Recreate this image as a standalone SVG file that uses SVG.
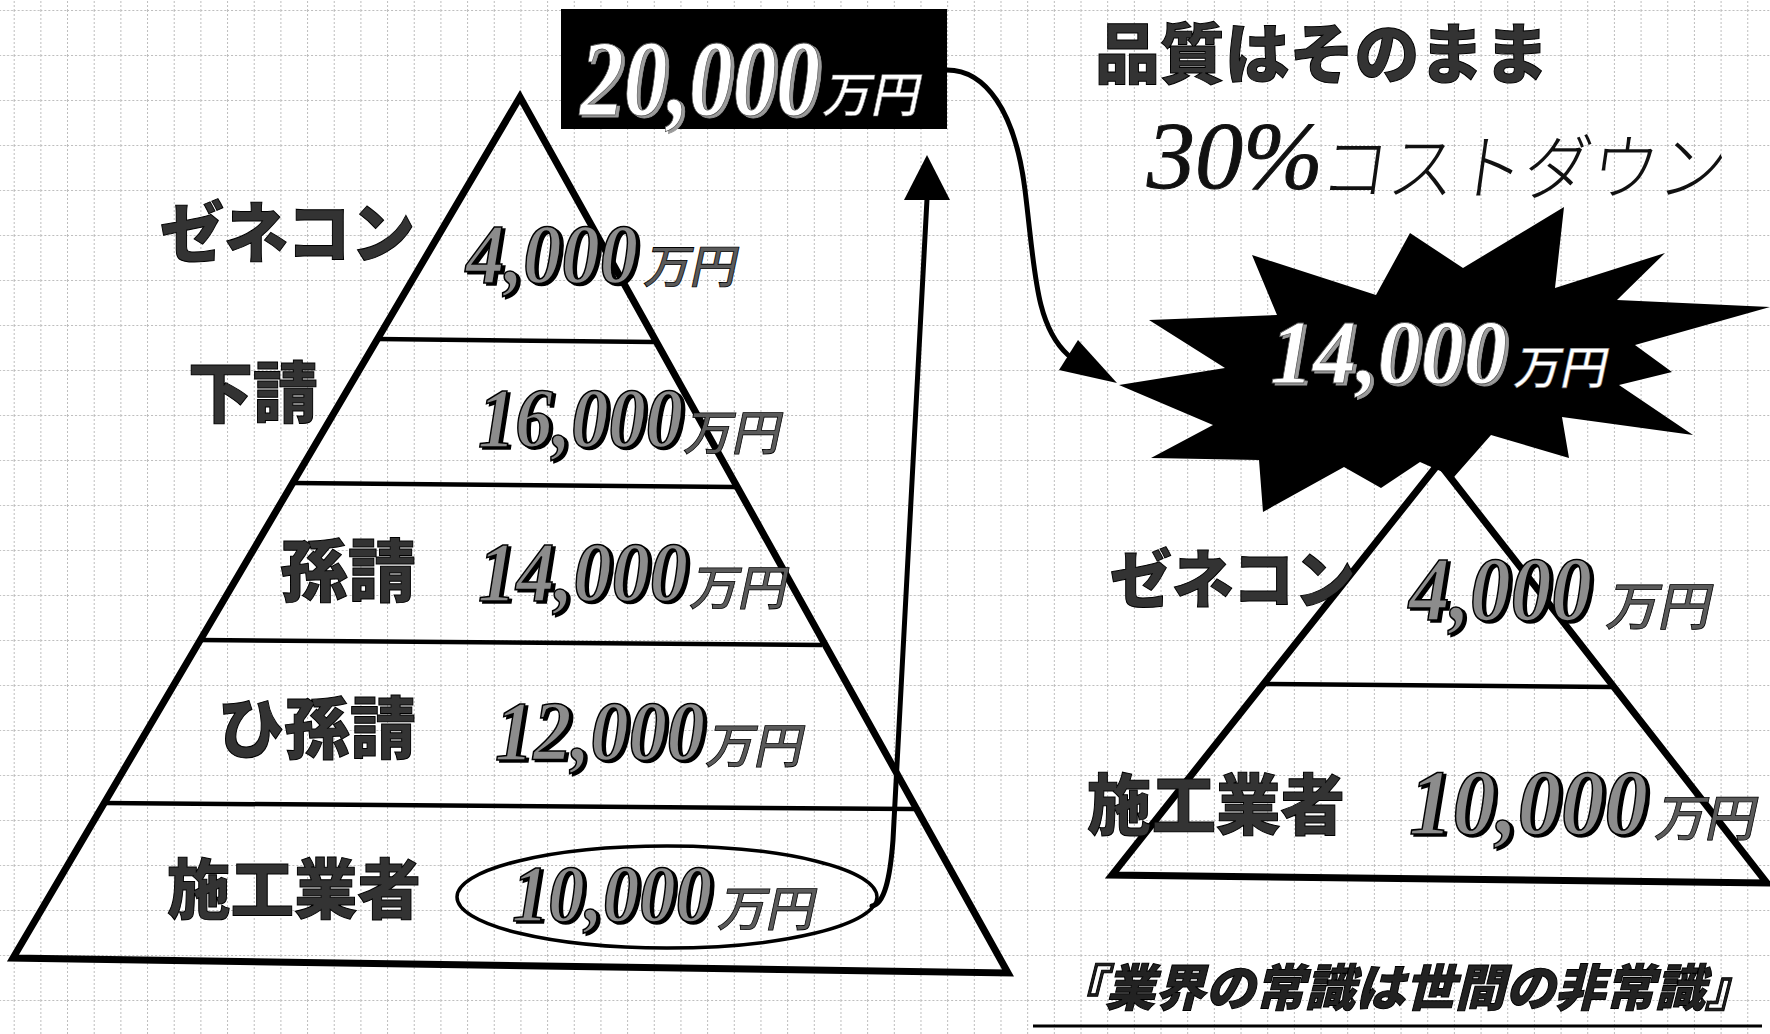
<svg xmlns="http://www.w3.org/2000/svg" width="1770" height="1034" viewBox="0 0 1770 1034">
<defs>
<pattern id="grid" patternUnits="userSpaceOnUse" x="13.7" y="10" width="26.67" height="45">
<path d="M0.5,0 V45 M0,0.5 H26.67" stroke="#bcbcbc" stroke-width="1" stroke-dasharray="2 2" fill="none"/>
</pattern>
<filter id="sh" x="-10%" y="-10%" width="130%" height="130%">
<feDropShadow dx="3" dy="2" stdDeviation="0" flood-color="#000"/>
</filter>
<filter id="shw" x="-10%" y="-10%" width="130%" height="130%">
<feDropShadow dx="3" dy="2" stdDeviation="0" flood-color="#9a9a9a"/>
</filter>
<style>
.num{font-family:"Liberation Serif","DejaVu Serif",serif;font-weight:bold;font-style:italic;fill:#8c8c8c;stroke:#000;stroke-width:1.6;filter:url(#sh)}
.numw{font-family:"Liberation Serif","DejaVu Serif",serif;font-weight:bold;font-style:italic;fill:#fff;stroke:#555;stroke-width:0.8;filter:url(#shw)}
.yen{font-family:"Noto Sans CJK JP","Noto Sans CJK SC",sans-serif;font-weight:500;fill:#5a5a5a;stroke:#000;stroke-width:0.8}
.yenw{font-family:"Noto Sans CJK JP","Noto Sans CJK SC",sans-serif;font-weight:500;fill:#fff;stroke:#777;stroke-width:0.6}
.lab{font-family:"Noto Sans CJK JP","Noto Sans CJK SC",sans-serif;font-weight:900;fill:#333;stroke:#000;stroke-width:1}
.cap{font-family:"Noto Sans CJK JP","Noto Sans CJK SC",sans-serif;font-weight:900;font-style:italic;fill:#222;stroke:#000;stroke-width:1}
.thin{font-family:"Noto Sans CJK JP","Noto Sans CJK SC",sans-serif;font-weight:300;fill:#111}
.pct{font-family:"Liberation Serif","DejaVu Serif",serif;font-style:italic;fill:#111;stroke:#111;stroke-width:1}
.side{stroke:#000;stroke-width:7;fill:none;stroke-linejoin:miter}
.rib{stroke:#000;stroke-width:4.5;fill:none}
.conn{stroke:#000;stroke-width:5;fill:none;stroke-linecap:round}
</style>
</defs>
<rect width="1770" height="1034" fill="#fff"/>
<rect width="1770" height="1034" fill="url(#grid)"/>

<g id="left-pyramid">
<polygon class="side" points="520,97 13,958 1008,973"/>
<line class="rib" x1="378" y1="339" x2="655" y2="342"/>
<line class="rib" x1="293" y1="483" x2="735" y2="487"/>
<line class="rib" x1="200" y1="640" x2="822" y2="645"/>
<line class="rib" x1="103" y1="803" x2="914" y2="809"/>
</g>

<g id="tier-genecon">
<text class="lab" x="160" y="257" font-size="66" textLength="255" lengthAdjust="spacingAndGlyphs">ゼネコン</text>
<text class="num" x="466" y="283" font-size="84" textLength="172" lengthAdjust="spacingAndGlyphs">4,000</text>
<text class="yen" transform="translate(643,283) skewX(-12)" font-size="46">万円</text>
</g>
<g id="tier-shitauke">
<text class="lab" x="188" y="417" font-size="66" textLength="130" lengthAdjust="spacingAndGlyphs">下請</text>
<text class="num" x="478" y="447" font-size="84" textLength="205" lengthAdjust="spacingAndGlyphs">16,000</text>
<text class="yen" transform="translate(683,450) skewX(-12)" font-size="48">万円</text>
</g>
<g id="tier-magouke">
<text class="lab" x="280" y="596" font-size="68" textLength="136" lengthAdjust="spacingAndGlyphs">孫請</text>
<text class="num" x="478" y="601" font-size="84" textLength="210" lengthAdjust="spacingAndGlyphs">14,000</text>
<text class="yen" transform="translate(689,605) skewX(-12)" font-size="48">万円</text>
</g>
<g id="tier-himagouke">
<text class="lab" x="218" y="753" font-size="67" textLength="198" lengthAdjust="spacingAndGlyphs">ひ孫請</text>
<text class="num" x="495" y="760" font-size="84" textLength="210" lengthAdjust="spacingAndGlyphs">12,000</text>
<text class="yen" transform="translate(705,763) skewX(-12)" font-size="48">万円</text>
</g>
<g id="tier-sekou">
<text class="lab" x="167" y="913" font-size="65" textLength="254" lengthAdjust="spacingAndGlyphs">施工業者</text>
<ellipse cx="667" cy="897" rx="210" ry="51" fill="none" stroke="#000" stroke-width="3.5"/>
<text class="num" x="512" y="921" font-size="81" textLength="200" lengthAdjust="spacingAndGlyphs">10,000</text>
<text class="yen" transform="translate(717,926) skewX(-12)" font-size="48">万円</text>
</g>

<g id="total-box">
<rect x="561" y="9" width="386" height="120" fill="#000"/>
<text class="numw" x="580" y="115" font-size="108" textLength="240" lengthAdjust="spacingAndGlyphs">20,000</text>
<text class="yenw" transform="translate(822,112) skewX(-12)" font-size="48">万円</text>
</g>

<g id="headline">
<text class="lab" x="1095" y="78" font-size="66" textLength="454" lengthAdjust="spacingAndGlyphs">品質はそのまま</text>
<text class="pct" x="1147" y="188" font-size="96">30%</text>
<text class="thin" transform="translate(1318,194) skewX(-8)" font-size="72" textLength="405" lengthAdjust="spacingAndGlyphs">コストダウン</text>
</g>

<g id="right-pyramid">
<polygon class="side" points="1439,463 1112,875 1767,883"/>
<line class="rib" x1="1263" y1="684" x2="1612" y2="687"/>
<text class="lab" x="1110" y="602" font-size="63" textLength="246" lengthAdjust="spacingAndGlyphs">ゼネコン</text>
<text class="num" x="1409" y="620" font-size="90" textLength="183" lengthAdjust="spacingAndGlyphs">4,000</text>
<text class="yen" transform="translate(1605,625) skewX(-12)" font-size="52">万円</text>
<text class="lab" x="1087" y="829" font-size="66" textLength="258" lengthAdjust="spacingAndGlyphs">施工業者</text>
<text class="num" x="1409" y="834" font-size="94" textLength="239" lengthAdjust="spacingAndGlyphs">10,000</text>
<text class="yen" transform="translate(1654,836) skewX(-12)" font-size="50">万円</text>
</g>

<g id="starburst">
<polygon fill="#000" points="1564,207 1555,288 1665,253 1617,300 1770,307 1635,345 1672,372 1619,385 1693,435 1562,417 1569,458 1491,435 1454,477 1420,462 1381,488 1344,467 1263,512 1259,460 1151,458 1213,425 1119,385 1225,368 1149,320 1277,315 1252,255 1376,295 1410,233 1463,268"/>
<text class="numw" x="1270" y="383" font-size="92" textLength="237" lengthAdjust="spacingAndGlyphs">14,000</text>
<text class="yenw" transform="translate(1513,384) skewX(-12)" font-size="46">万円</text>
</g>

<g id="connectors">
<path class="conn" d="M872,906 C884,904 890,880 893,840 L927,199"/>
<polygon points="927,155 904,200 950,200" fill="#000"/>
<path class="conn" d="M947,70 C985,70 1015,110 1025,190 C1035,270 1035,325 1068,355"/>
<polygon points="1117,383 1078,340 1059,370" fill="#000"/>
</g>

<g id="caption">
<text class="cap" x="1055" y="1006" font-size="50">『業界の常識は世間の非常識』</text>
<line x1="1033" y1="1026" x2="1762" y2="1026" stroke="#000" stroke-width="3"/>
</g>
</svg>
